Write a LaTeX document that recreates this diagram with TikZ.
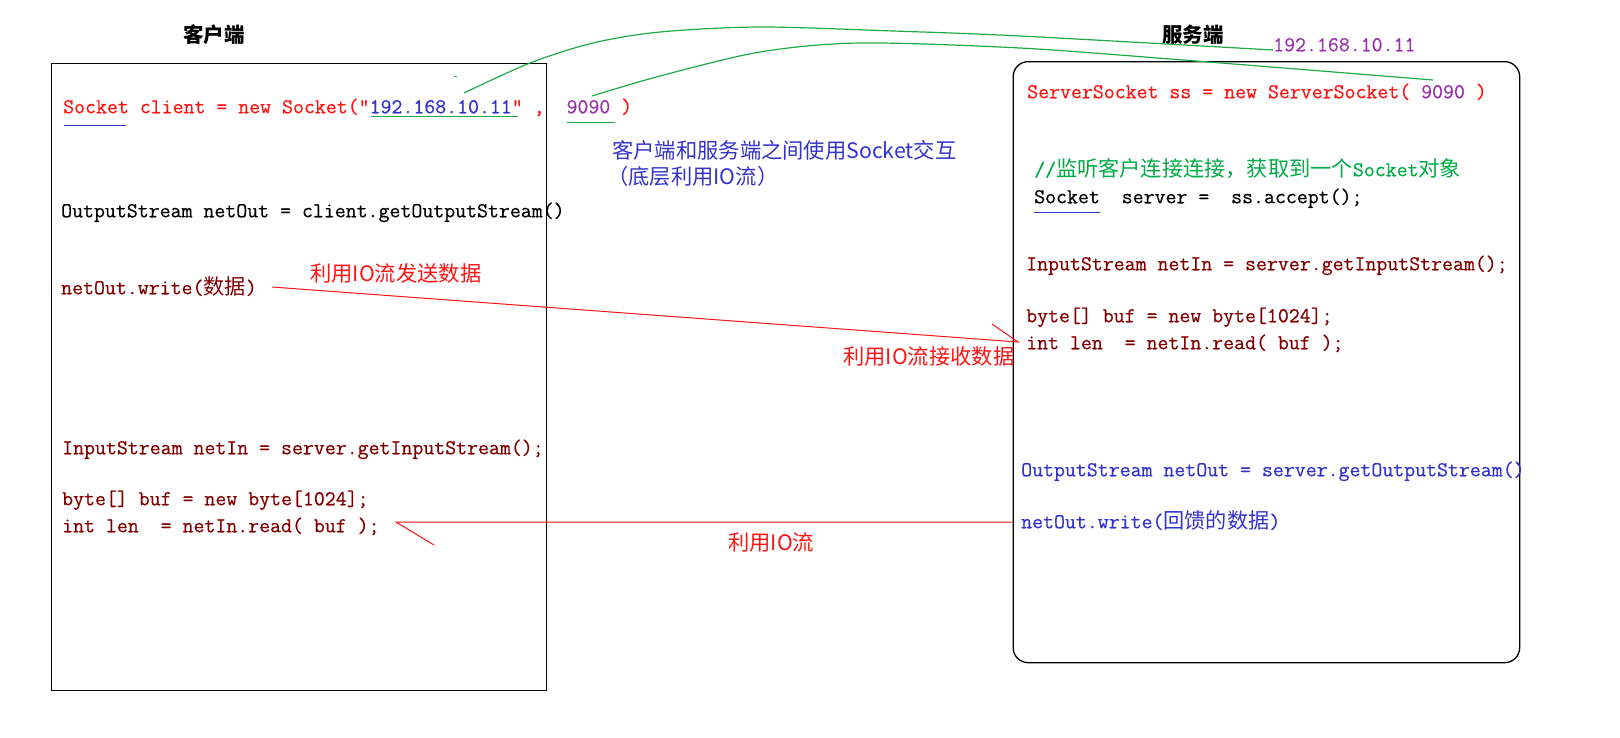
\documentclass[tikz,border=0pt]{standalone}
\usepackage{fontspec}
\newfontfamily\cjk{Noto Sans CJK SC}
\newfontfamily\codef{Latin Modern Mono}[FakeBold=0.5]
\definecolor{dred}{RGB}{128,0,0}
\definecolor{cblue}{RGB}{51,51,204}
\definecolor{cpurple}{RGB}{153,51,170}
\definecolor{cgreen}{RGB}{0,170,68}
\definecolor{gline}{RGB}{30,170,70}
\definecolor{cred}{RGB}{255,20,20}
\newcommand\cf{\codef\fontsize{21.25}{24}\selectfont}
\newcommand\cz[1]{{\cjk\fontsize{21.2}{24}\selectfont #1}}
\tikzset{
  code/.style={anchor=west, inner sep=0pt, font=\cf, text height=16.8pt, text depth=4.3pt},
  lbl/.style={anchor=west, inner sep=0pt, font={\cjk\fontsize{21.3}{26}\selectfont}},
  ttl/.style={inner sep=0pt, font={\cjk\bfseries\fontsize{20.5}{24}\selectfont}},
  boxline/.style={draw=black, line width=1.3pt},
  rline/.style={draw=cred, line width=1pt},
  gcurve/.style={draw=gline, line width=1.2pt},
}
\begin{document}
\begin{tikzpicture}[x=1pt,y=-1pt]
\useasboundingbox (0,0) rectangle (1620,737);
% titles
\node[ttl] (ct) at (214,35) {客户端};
\node[ttl] (st) at (1193,35) {服务端};
% boxes
\node[boxline, anchor=north west, inner sep=0pt, minimum width=495pt, minimum height=627pt] (cbox) at (50.5,63) {};
\node[boxline, rounded corners=15pt, anchor=north west, inner sep=0pt, minimum width=506.5pt, minimum height=601pt] (sbox) at (1012.5,61) {};
% client code
\node[code, text=cred] (c1) at (63,107) {Socket client = new Socket("\textcolor{cblue}{192.168.10.11}"~,~~\textcolor{cpurple}{9090}~)};
\node[code, text=black] (c2) at (61,211) {OutputStream netOut = client.getOutputStream()};
\node[code, text=dred] (c3) at (61,288) {netOut.write(\cz{数据})};
\node[code, text=dred] (c4) at (62,448) {InputStream netIn = server.getInputStream();};
\node[code, text=dred] (c5) at (62,499) {byte[] buf = new byte[1024];};
\node[code, text=dred] (c6) at (62,526) {int len~~= netIn.read( buf );};
% server code
\node[code, text=cred] (s1) at (1027,92) {ServerSocket ss = new ServerSocket( \textcolor{cpurple}{9090} )};
\node[code, text=cgreen] (s2) at (1034,170) {//\cz{监听客户连接连接，获取到一个}Socket\cz{对象}};
\node[code, text=black] (s3) at (1034,197) {Socket~~server =~~ss.accept();};
\node[code, text=dred] (s4) at (1026,264) {InputStream netIn = server.getInputStream();};
\node[code, text=dred] (s5) at (1026,316) {byte[] buf = new byte[1024];};
\node[code, text=dred] (s6) at (1026,343) {int len~~= netIn.read( buf );};
\node[code, text=cblue] (s7) at (1021,470) {OutputStream netOut = server.getOutputStream()};
\node[code, text=cblue] (s8) at (1021,522) {netOut.write(\cz{回馈的数据})};
\node[code, text=cpurple] (sip) at (1273,45) {192.168.10.11};
% labels
\node[lbl, text=cblue] (l1) at (612,150) {客户端和服务端之间使用Socket交互};
\node[lbl, text=cblue] (l2) at (607,176) {（底层利用IO流）};
\node[lbl, text=cred] (l3) at (310,273) {利用IO流发送数据};
\node[lbl, text=cred] (l4) at (843,356) {利用IO流接收数据};
\node[lbl, text=cred] (l5) at (728,542) {利用IO流};
% underlines
\draw[draw=cblue, line width=1pt] (64,125) -- (126,125);
\draw[draw=gline, line width=1pt] (371,116) -- (518,116);
\draw[draw=gline, line width=1pt] (567,122) -- (615,122);
\draw[draw=cblue, line width=1pt] (1034,212) -- (1100,212);
\draw[draw=gline, line width=1pt] (454,76) -- (457,76);
% green connectors
\coordinate (g1s) at (464,93);
\coordinate (g1e) at (1273,50);
\coordinate (g2s) at (592,96);
\coordinate (g2e) at (1433,80);
\draw[gcurve] plot[smooth, tension=0.5] coordinates {(g1s) (530,63) (593,43) (660,32) (760,27) (893,31) (1020,36) (g1e)};
\draw[gcurve] plot[smooth, tension=0.5] coordinates {(g2s) (660,76) (760,52) (860,43) (1020,48) (1183,60) (g2e)};
% send arrow
\coordinate (ss) at (272,287);
\coordinate (se) at (1018,342);
\draw[rline] (ss) -- (se) -- ++(-26,-18);
% return arrow
\coordinate (rs) at (sbox.west |- s8);
\coordinate (re) at (396,522);
\draw[rline] (rs) -- (re) -- ++(38,23);
\end{tikzpicture}
\end{document}
